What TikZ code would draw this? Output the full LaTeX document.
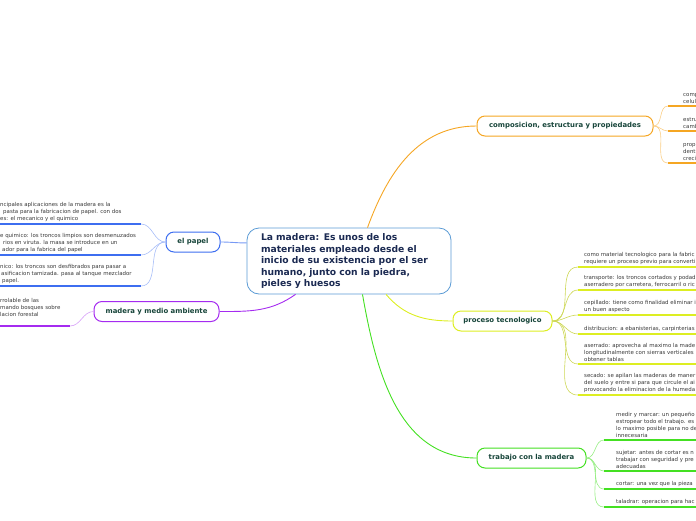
\documentclass[tikz,border=0pt]{standalone}
\usepackage{fontspec}
\setmainfont{DejaVu Sans}
\usetikzlibrary{positioning}
\definecolor{naranja}{HTML}{F5A623}
\definecolor{azul}{HTML}{3D6EF0}
\definecolor{morado}{HTML}{A52BF0}
\definecolor{amarillo}{HTML}{DDEE22}
\definecolor{verde}{HTML}{44E022}
\definecolor{bordecentro}{HTML}{5B9BD5}
\definecolor{txtcentro}{HTML}{1B2A52}
\definecolor{txtrama}{HTML}{17453A}
\begin{document}
\begin{tikzpicture}[x=1pt, y=-1pt,
    centro/.style={rectangle, draw=bordecentro, line width=0.8pt, rounded corners=12pt, fill=white, text width=176pt, inner xsep=14pt, minimum height=66pt, align=left, text=txtcentro, font=\fontsize{9.2}{11.5}\selectfont\bfseries},
    rama/.style={rectangle, draw=#1, line width=1pt, rounded corners=8pt, fill=white, minimum height=20pt, inner sep=0pt, text=txtrama, font=\fontsize{6.9}{8}\selectfont\bfseries},
    hoja/.style={anchor=south west, inner sep=0pt, align=left, text=black!78, font=\fontsize{5.45}{7}\selectfont},
    enlace/.style={draw=#1, line width=0.9pt},
    ramita/.style={draw=#1, line width=0.6pt},
    rayita/.style={draw=#1, line width=1.6pt}
]
    \useasboundingbox (0,0) rectangle (696,520);
    \clip (0,0) rectangle (696,520);
    \coordinate (borde) at (700,0);
    \coordinate (izq) at (-4,0);

    % tema central
    \node[centro] (madera) at (349,261) {La madera: Es unos de los\\materiales empleado desde el\\inicio de su existencia por el ser\\humano, junto con la piedra,\\pieles y huesos};

    % ramas
    \node[rama=naranja, minimum width=176pt] (compo) at (565,126) {composicion, estructura y propiedades};
    \node[rama=azul, minimum width=54pt] (papel) at (193,242) {el papel};
    \node[rama=morado, minimum width=125pt] (ambiente) at (156.5,311.5) {madera y medio ambiente};
    \node[rama=amarillo, minimum width=99pt] (proceso) at (502.5,321) {proceso tecnologico};
    \node[rama=verde, minimum width=109pt] (trabajo) at (531.5,458) {trabajo con la madera};

    \draw[enlace=naranja] (madera.61) to[out=70,in=180] (compo.west);
    \draw[enlace=azul!70] (madera.170) to[out=180,in=0] (papel.east);
    \draw[enlace=morado] (madera.212) to[out=215,in=0] (ambiente.east);
    \draw[enlace=amarillo] (madera.-42) to[out=-50,in=180] (proceso.west);
    \draw[enlace=verde] (madera.-68) to[out=-80,in=180] (trabajo.west);

    % composicion
    \coordinate (c1) at (668,106);
    \coordinate (c2) at (668,131);
    \coordinate (c3) at (668,163);
    \node[hoja] (c1t) at (683,103.5) {comp\\celul};
    \node[hoja] (c2t) at (683,128.5) {estru\\camb};
    \node[hoja] (c3t) at (683,160.5) {prop\\dent\\creci};
    \foreach \c in {c1,c2,c3} {
        \draw[ramita=naranja!55] (compo.east) to[out=0,in=180] (\c);
        \draw[rayita=naranja] (\c) -- (\c -| borde);
    }

    % el papel
    \coordinate (p1) at (141,224);
    \coordinate (p2) at (141,255);
    \coordinate (p3) at (141,286);
    \node[hoja] (p1t) at (0,221.5) {ncipales aplicaciones de la madera es la\\\hspace*{3pt}pasta para la fabricacion de papel. con dos\\es: el mecanico y el quimico};
    \node[hoja] (p2t) at (0,252.5) {e quimico: los troncos limpios son desmenuzados\\\hspace*{3pt}rios en viruta. la masa se introduce en un\\\hspace*{2pt}ador para la fabrica del papel};
    \node[hoja] (p3t) at (0,283.5) {nico: los troncos son desfibrados para pasar a\\\hspace*{1pt}asificacion tamizada. pasa al tanque mezclador\\\hspace*{2pt}papel.};
    \foreach \p in {p1,p2,p3} {
        \draw[ramita=azul!45] (papel.west) to[out=180,in=0] (\p);
        \draw[rayita=azul] (\p -| izq) -- (\p);
    }

    % madera y medio ambiente
    \coordinate (m1) at (70,326);
    \node[hoja] (m1t) at (0,316.5) {rrolable de las\\mando bosques sobre\\lacion forestal};
    \draw[ramita=morado!45] (ambiente.west) to[out=180,in=0] (m1);
    \draw[rayita=morado] (m1 -| izq) -- (m1);

    % proceso tecnologico
    \coordinate (t1) at (578,267);
    \coordinate (t2) at (578,290);
    \coordinate (t3) at (578,315);
    \coordinate (t4) at (578,334);
    \coordinate (t5) at (578,364);
    \coordinate (t6) at (578,395);
    \node[hoja] (t1t) at (584,264.5) {como material tecnologico para la fabric\\requiere un proceso previo para converti};
    \node[hoja] (t2t) at (584,287.5) {transporte: los troncos cortados y podad\\aserradero por carretera, ferrocarril o ric};
    \node[hoja] (t3t) at (584,312.5) {cepillado: tiene como finalidad eliminar i\\un buen aspecto};
    \node[hoja] (t4t) at (584,331.5) {distribucion: a ebanisterias, carpinterias};
    \node[hoja] (t5t) at (584,361.5) {aserrado: aprovecha al maximo la made\\longitudinalmente con sierras verticales\\obtener tablas};
    \node[hoja] (t6t) at (584,392.5) {secado: se apilan las maderas de maner\\del suelo y entre si para que circule el ai\\provocando la eliminacion de la humeda};
    \foreach \t in {t1,t2,t3,t4,t5,t6} {
        \draw[ramita=amarillo!85!black!75] (proceso.east) to[out=0,in=180] (\t);
        \draw[rayita=amarillo] (\t) -- (\t -| borde);
    }

    % trabajo con la madera
    \coordinate (w1) at (604,440);
    \coordinate (w2) at (604,471);
    \coordinate (w3) at (604,489);
    \coordinate (w4) at (604,507);
    \node[hoja] (w1t) at (616,437.5) {medir y marcar: un pequeño\\estropear todo el trabajo. es\\lo maximo posible para no de\\innecesaria};
    \node[hoja] (w2t) at (616,468.5) {sujetar: antes de cortar es n\\trabajar con seguridad y pre\\adecuadas};
    \node[hoja] (w3t) at (616,486.5) {cortar: una vez que la pieza};
    \node[hoja] (w4t) at (616,504.5) {taladrar: operacion para hac};
    \foreach \w in {w1,w2,w3,w4} {
        \draw[ramita=verde!55] (trabajo.east) to[out=0,in=180] (\w);
        \draw[rayita=verde] (\w) -- (\w -| borde);
    }
\end{tikzpicture}
\end{document}
